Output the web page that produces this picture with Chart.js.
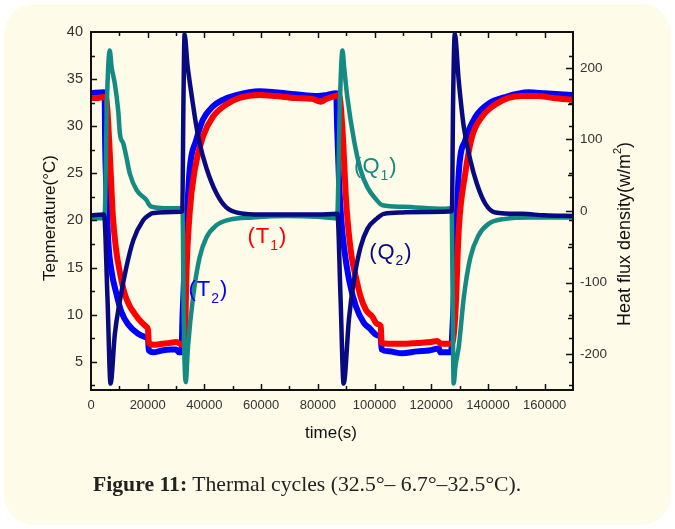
<!DOCTYPE html>
<html><head><meta charset="utf-8">
<script src="https://cdn.jsdelivr.net/npm/chart.js@4"></script>
<style>
html,body{margin:0;padding:0;background:#fff;}
#wrap{position:relative;width:675px;height:529px;overflow:hidden;}
#card{position:absolute;left:4px;top:4px;width:667px;height:521px;background:#FEFBE8;border-radius:30px;}
#c{position:absolute;left:0;top:0;}
#cap{position:absolute;left:93px;top:472px;font-family:"Liberation Serif",serif;font-size:21.7px;color:#222;white-space:nowrap;}
</style></head><body>
<div id="wrap"><div id="card"></div><canvas id="c" width="675" height="529"></canvas>
<div id="cap"><b>Figure 11:</b> Thermal cycles (32.5°– 6.7°–32.5°C).</div></div>
<script>
// ---- data (time in s) ----
const t1Time = [0,2000,4500,5400,6200,6900,7700,8900,10100,11800,13500,15400,17500,19600,20100,20400,22000,25000,28000,30000,31500,32600,33300,33600,34800,36600,39500,43000,47700,52400,59400,65000,72000,78000,81000,83000,86000,87500,88700,89900,90500,92000,93400,95000,97000,99200,101000,102200,102500,105000,110000,115000,120000,122000,123500,126500,127500,128500,129700,132000,134400,137900,142600,147300,152000,157800,163000,170000];
const t1Temp = [33.0,33.0,33.1,33.0,29.6,25.4,20.5,16.8,14.6,12.3,11.0,10.1,9.3,8.7,8.4,7.0,6.8,6.9,7.0,7.1,6.9,6.8,9.0,13.7,20.8,25.4,28.9,31.0,32.3,33.0,33.3,33.2,33.0,32.9,32.6,32.9,33.2,33.3,29.6,22.5,20.0,16.0,14.0,12.0,10.5,9.8,9.0,8.8,7.0,6.9,6.9,7.0,7.1,7.2,6.9,6.9,7.0,10.0,19.0,25.0,28.9,31.0,32.3,33.0,33.2,33.2,33.0,32.8];

const t2Time = [0,4500,4800,5000,5600,6000,7200,8900,10700,13000,16500,19400,20100,20400,22000,25000,28000,30000,31000,31900,32300,33000,33600,34800,37100,39500,43000,46500,51200,59400,65000,72000,80000,83000,86500,86800,87500,88300,89300,91000,93400,96300,98100,101000,102200,102500,105000,109700,115000,119200,122700,123200,127000,127400,128000,128500,129700,132000,135600,140200,146100,154300,160000,170000];
const t2Temp = [33.5,33.6,33.5,28,22,18.3,14.7,12.3,10.3,9.0,8.0,7.6,7.4,6.2,6.0,6.2,6.3,6.3,6.0,6.0,10,15,19,25.4,28.5,30.7,32.1,32.8,33.3,33.7,33.6,33.4,33.2,33.3,33.5,30,24,20,17.0,13.7,10.9,9.1,8.6,7.8,7.6,6.3,6.1,5.9,6.1,6.2,6.4,6.0,6.0,8,12,15.5,25.0,28.5,31.0,32.4,33.1,33.6,33.5,33.3];

const q1Time = [0,4400,4800,5600,6600,7300,8400,9600,10200,11400,12500,13700,16100,19600,20300,21300,26000,31300,32300,32700,33400,34200,36000,38300,40700,44200,48900,57100,68800,80000,86500,86900,87700,88700,89300,90400,92800,95100,97500,100400,102800,110000,124400,127200,127500,127900,128600,129700,131500,133800,136700,140200,146100,155000,170000];
const q1Flux = [-10,-10,-8,150,224,200,178,140,108,94,75,52,29,15,10,6,4,4,2,-150,-239,-190,-120,-65,-37,-20,-12,-9,-7,-8,-10,-5,140,224,200,159,98,57,33,17,8,6,3,4,-100,-241,-215,-190,-120,-65,-34,-18,-11,-9,-9];

const q2Time = [0,4600,5800,6900,8400,10200,12500,14900,18400,20700,21500,31700,32200,32600,33000,34000,35000,36000,37000,38300,40700,44200,47700,52400,60000,80000,86900,88000,89100,91000,92800,95100,97500,101000,103300,110000,124400,127300,127700,128300,129700,131500,133800,136100,139100,142600,152000,160000,170000];
const q2Flux = [-6,-5,-120,-241,-172,-125,-78,-41,-13,-5,-3,-1,0,150,247,205,175,148,122,95,60,25,5,-3,-5,-5,-4,-120,-241,-150,-95,-50,-25,-10,-4,-2,-1,0,150,247,182,117,71,38,10,-2,-4,-6,-7];

const xTicks = [0,20000,40000,60000,80000,100000,120000,140000,160000];
const tempTicks = [5,10,15,20,25,30,35,40];
const fluxTicks = [-200,-100,0,100,200];

// annotation labels: [main, sub, colour, time, temperature]
const labels = [
  ['Q','1','#138a82',92800,25.7],
  ['T','1','#ff0000',55200,18.2],
  ['T','2','#0000ff',34400,12.6],
  ['Q','2','#0a0a80',98100,16.6]
];

const pts = (xs, ys) => xs.map((x,i)=>({x:x,y:ys[i]}));

const FONT = '"Liberation Sans", Arial, sans-serif';

const decor = {
  id:'decor',
  afterDatasetsDraw(chart){
    const ctx = chart.ctx, a = chart.chartArea;
    const sx = chart.scales.x, sy = chart.scales.y, sq = chart.scales.y1;
    ctx.save();
    // frame
    ctx.strokeStyle = '#111'; ctx.lineWidth = 2;
    ctx.strokeRect(a.left, a.top, a.right-a.left, a.bottom-a.top);
    ctx.lineWidth = 1.5;
    ctx.beginPath();
    for (let v=10000; v<170000; v+=10000){
      const p = Math.round(sx.getPixelForValue(v))+0.5;
      const L = (v%20000===0)?6:4;
      ctx.moveTo(p,a.bottom); ctx.lineTo(p,a.bottom-L);
      ctx.moveTo(p,a.top); ctx.lineTo(p,a.top+L);
    }
    for (let v=2.5; v<40; v+=2.5){
      const p = Math.round(sy.getPixelForValue(v))+0.5;
      const L = (v%5===0)?6:4;
      ctx.moveTo(a.left,p); ctx.lineTo(a.left+L,p);
      ctx.moveTo(a.right,p); ctx.lineTo(a.right-4,p);
    }
    for (let v=-200; v<=200; v+=50){
      const p = Math.round(sq.getPixelForValue(v))+0.5;
      const L = (v%100===0)?7:5;
      ctx.moveTo(a.right,p); ctx.lineTo(a.right-L,p);
    }
    ctx.stroke();

    // axis titles
    ctx.fillStyle = '#111';
    ctx.textBaseline = 'middle';
    ctx.font = '17px '+FONT;
    ctx.textAlign = 'center';
    ctx.fillText('time(s)', 331, 433);
    ctx.save();
    ctx.translate(50, 218); ctx.rotate(-Math.PI/2);
    ctx.fillText('Tepmerature(°C)', 0, 0);
    ctx.restore();
    ctx.save();
    ctx.translate(625, 234); ctx.rotate(-Math.PI/2);
    ctx.font = '18px '+FONT;
    const pa = 'Heat flux density(w/m', pb = ')';
    const wa = ctx.measureText(pa).width, wb = ctx.measureText(pb).width;
    ctx.font = '11px '+FONT;
    const ws = ctx.measureText('2').width;
    let x0 = -(wa+ws+wb)/2;
    ctx.textAlign = 'left';
    ctx.font = '18px '+FONT;
    ctx.fillText(pa, x0, 0);
    ctx.font = '11px '+FONT;
    ctx.fillText('2', x0+wa, -7);
    ctx.font = '18px '+FONT;
    ctx.fillText(pb, x0+wa+ws, 0);
    ctx.restore();

    // series labels
    labels.forEach(([m,s,col,t,v])=>{
      let x = sx.getPixelForValue(t), y = sy.getPixelForValue(v);
      ctx.fillStyle = col; ctx.textAlign='left'; ctx.textBaseline='middle';
      ctx.font = '22px '+FONT;
      ctx.fillText('(', x, y); x += ctx.measureText('(').width + 1;
      ctx.fillText(m, x, y); x += ctx.measureText(m).width + 1;
      ctx.font = '14px '+FONT;
      ctx.fillText(s, x, y+9); x += ctx.measureText(s).width + 1;
      ctx.font = '22px '+FONT;
      ctx.fillText(')', x, y);
    });
    ctx.restore();
  }
};

const tickFont = (size)=>({family:'"Liberation Sans", Arial, sans-serif', size:size});

new Chart(document.getElementById('c'), {
  type:'line',
  data:{datasets:[
    {label:'Q2', data:pts(q2Time,q2Flux), yAxisID:'y1', borderColor:'#0a0a80', borderWidth:4.5, order:0},
    {label:'Q1', data:pts(q1Time,q1Flux), yAxisID:'y1', borderColor:'#138a82', borderWidth:4.5, order:1},
    {label:'T1', data:pts(t1Time,t1Temp), yAxisID:'y', borderColor:'#ff0000', borderWidth:6, order:2},
    {label:'T2', data:pts(t2Time,t2Temp), yAxisID:'y', borderColor:'#0000ff', borderWidth:6, order:3}
  ]},
  options:{
    responsive:false, animation:false, devicePixelRatio:1,
    layout:{padding:{top:32,left:0,right:0,bottom:0}},
    elements:{point:{radius:0}, line:{cubicInterpolationMode:'monotone', borderCapStyle:'round', borderJoinStyle:'round'}},
    plugins:{legend:{display:false}, tooltip:{enabled:false}},
    scales:{
      x:{type:'linear', min:0, max:170000,
         grid:{display:false, drawTicks:false}, border:{display:false},
         ticks:{padding:8, color:'#333', font:tickFont(13), maxRotation:0, autoSkip:false, callback:v=>String(v)},
         afterBuildTicks:s=>{s.ticks = xTicks.map(v=>({value:v}));},
         afterFit:s=>{s.height = 139;}},
      y:{type:'linear', position:'left', min:2, max:40,
         grid:{display:false, drawTicks:false}, border:{display:false},
         ticks:{padding:8, color:'#333', font:tickFont(14.5), callback:v=>String(v)},
         afterBuildTicks:s=>{s.ticks = tempTicks.map(v=>({value:v}));},
         afterFit:s=>{s.width = 91;}},
      y1:{type:'linear', position:'right', min:-250, max:250,
         grid:{display:false, drawTicks:false}, border:{display:false},
         ticks:{padding:7, color:'#333', font:tickFont(13.5), callback:v=>String(v)},
         afterBuildTicks:s=>{s.ticks = fluxTicks.map(v=>({value:v}));},
         afterFit:s=>{s.width = 102;}}
    }
  },
  plugins:[decor]
});
</script>
</body></html>
